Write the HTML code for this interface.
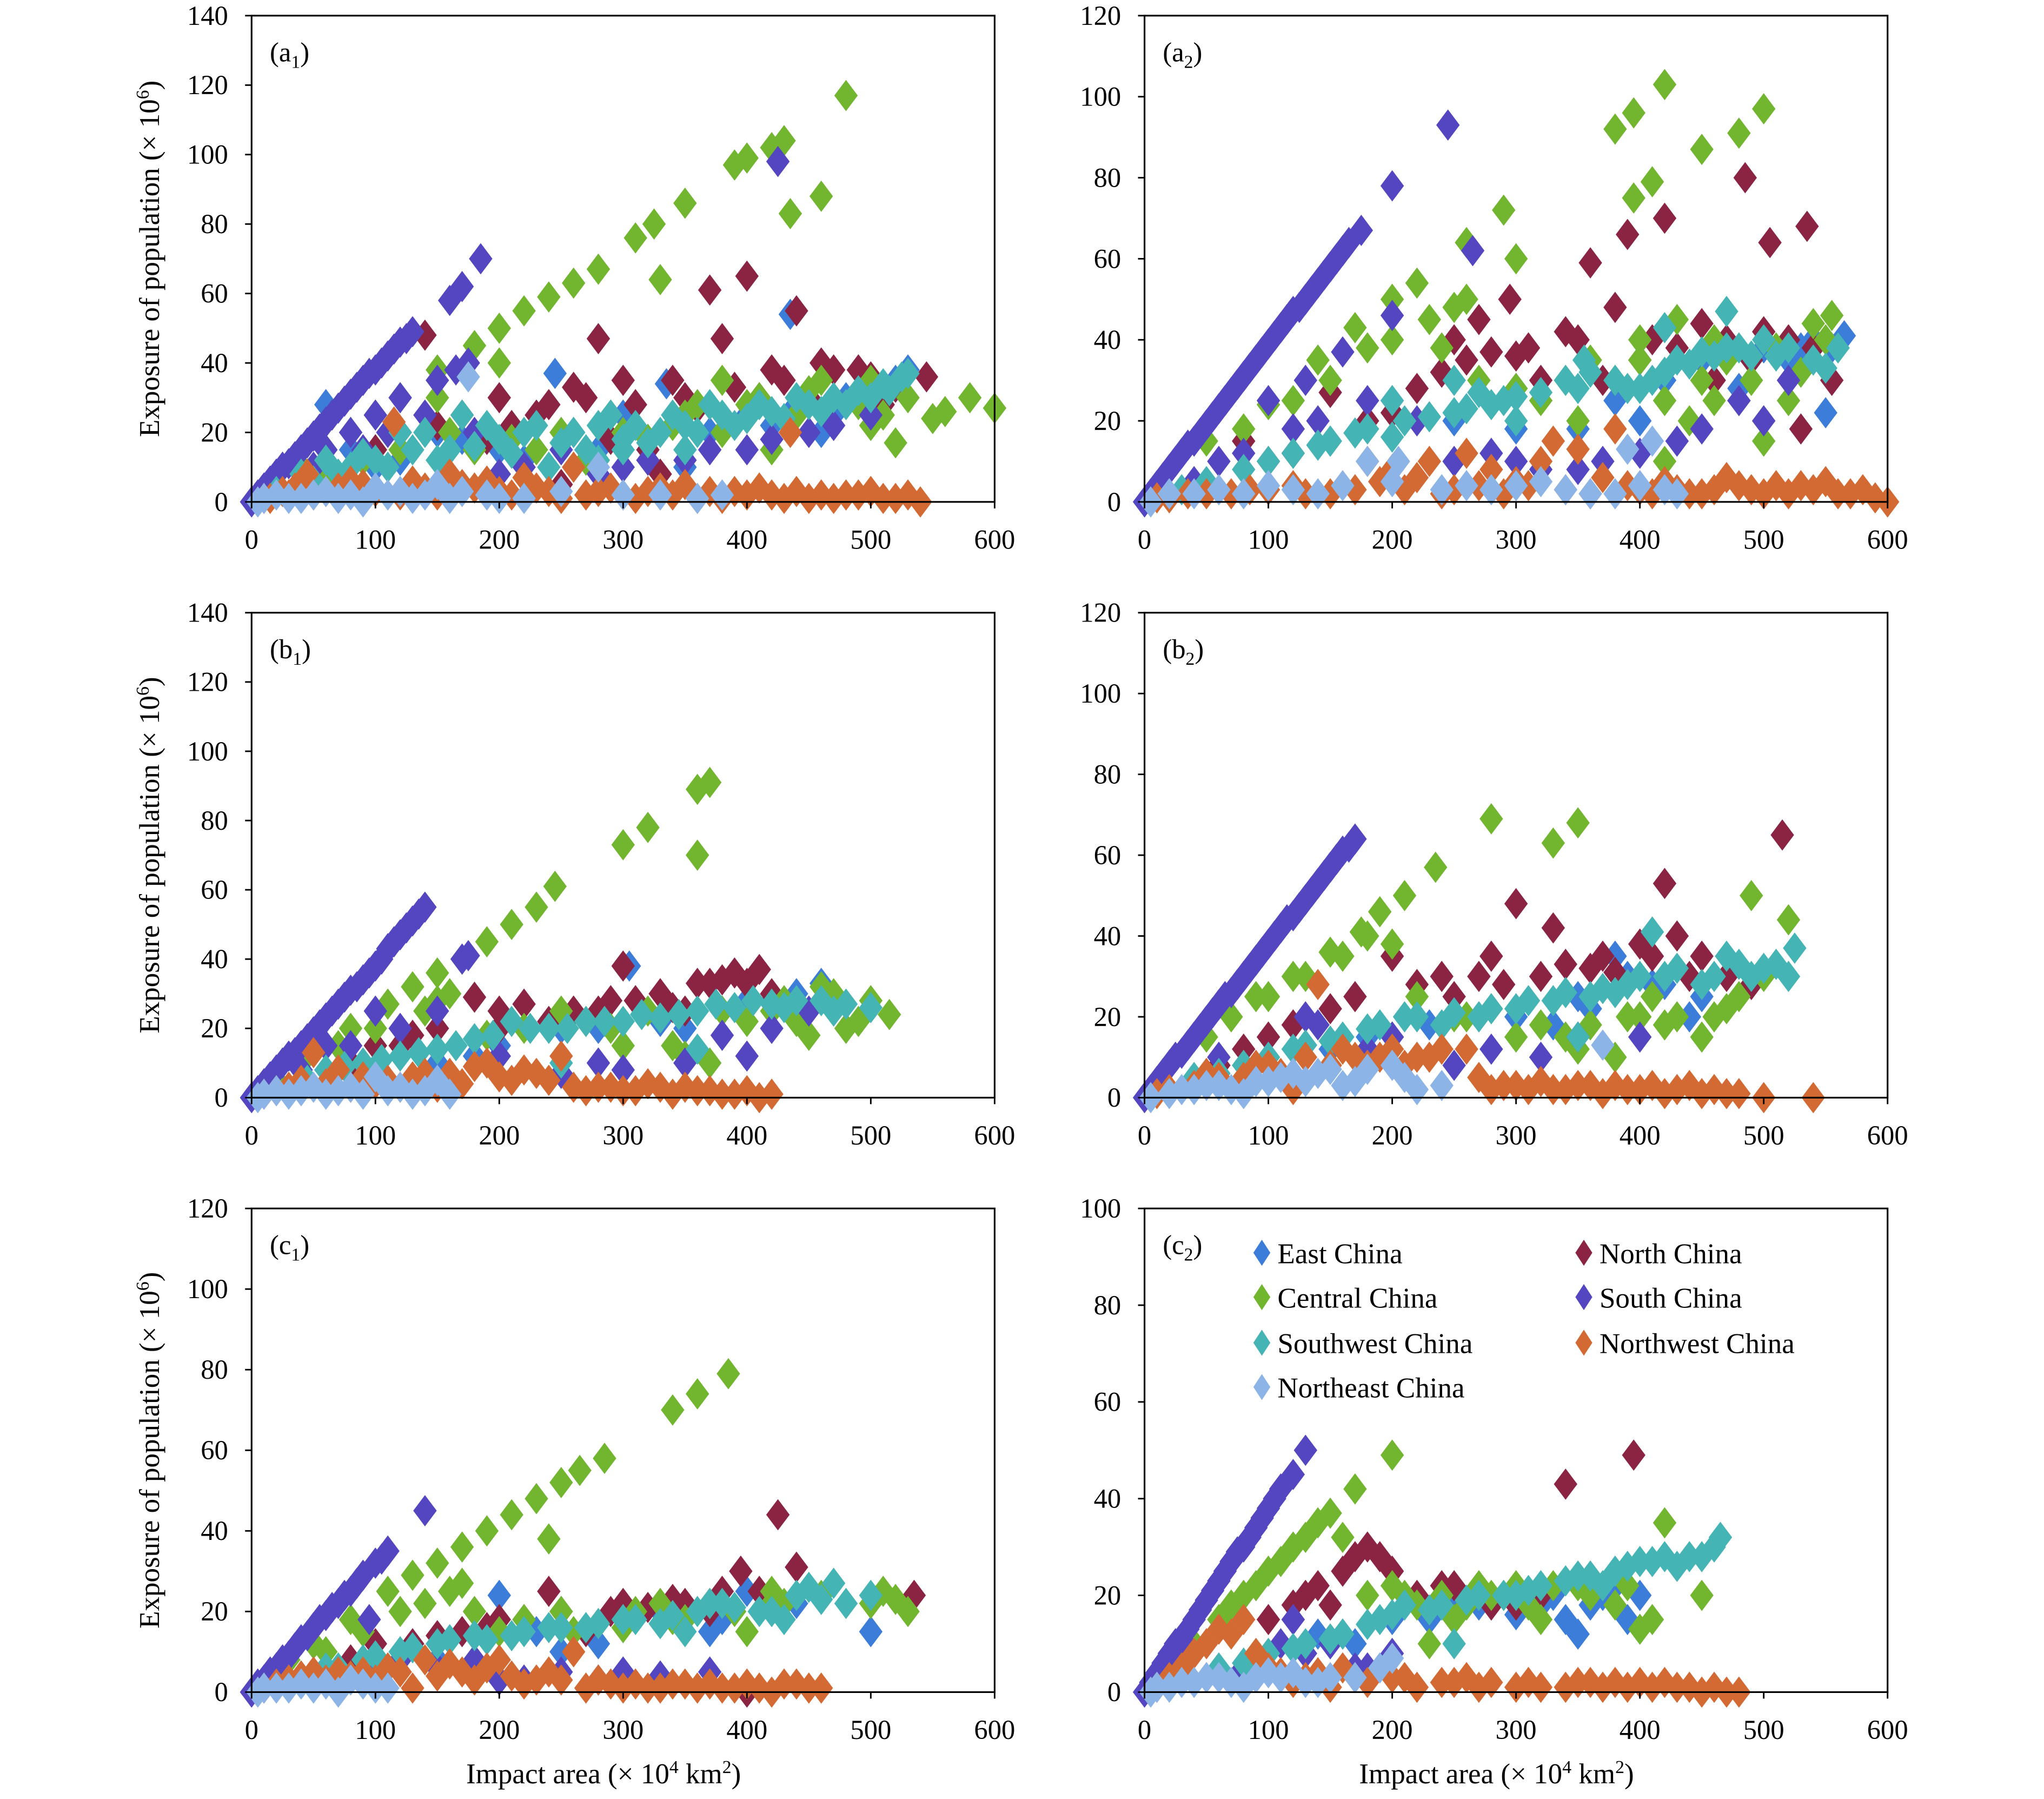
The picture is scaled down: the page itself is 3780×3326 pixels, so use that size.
<!DOCTYPE html>
<html><head><meta charset="utf-8"><style>
html,body{margin:0;padding:0;background:#fff}
svg{display:block}
text{font-family:"Liberation Serif",serif;fill:#000}
</style></head><body>
<svg id="chart" xmlns="http://www.w3.org/2000/svg" width="3780" height="3326" viewBox="0 0 1568 1380" preserveAspectRatio="none">
<g id="root"></g>
</svg>
<script>
const regions = ["East China","North China","Central China","South China","Southwest China","Northwest China","Northeast China"];
const colors = ["#3b7dd8","#8b2342","#72b52f","#5346c0","#44b4b4","#d36a33","#8cb4e6"];
const drawOrder = [0,1,2,3,4,5,6];
const xTicks = [0,100,200,300,400,500,600];

// Panel a1 data: flat [x,y,...]
const a1East=[60,28,245,37,335,34,435,54,490,38,530,38,150,20,200,15,300,25,400,25,460,20,100,10,350,10,480,30,80,15,120,12,170,18,220,12,260,20,280,15,320,18,370,20,420,22,440,28,470,25,510,30,520,35];
const a1North=[140,48,280,47,370,61,400,65,380,47,440,55,300,35,260,33,420,38,460,40,490,38,545,36,520,33,200,30,150,22,100,15,230,25,350,30,330,8,250,5,120,20,170,25,190,18,210,22,240,28,270,30,290,18,310,28,320,15,340,35,360,27,390,33,410,30,430,35,450,30,470,38,500,36,510,28];
const a1Central=[20,5,40,10,60,15,80,20,100,25,120,30,150,38,180,45,200,50,220,55,240,59,260,63,280,67,310,76,325,80,350,86,390,97,400,99,420,102,430,104,480,117,435,83,460,88,330,64,200,40,150,30,300,20,350,25,400,28,450,32,500,22,520,17,550,24,560,26,580,30,600,27,500,35,470,30,250,20,180,15,60,8,90,12,120,15,160,20,210,18,230,15,270,12,290,25,320,18,340,22,360,28,380,20,410,30,440,25,460,35,490,28,510,25,530,30,380,35,420,15];
const a1South=[0,0,10,4,20,8,30,11,40,15,50,19,60,23,70,27,80,31,90,35,100,38,110,42,120,46,130,49,160,58,170,62,185,70,425,98,165,38,175,40,120,30,100,25,80,20,60,15,150,35,250,15,300,10,350,12,400,15,450,20,200,8,5,2,15,6,25,10,35,13,45,17,55,21,65,25,75,29,85,33,95,37,105,40,115,44,125,47,50,10,90,15,110,20,140,25,180,20,220,10,280,8,320,12,370,15,420,18,470,22,500,25];
const a1SW=[20,3,50,6,80,10,100,12,130,15,160,15,200,18,220,20,250,17,280,22,300,18,330,20,350,22,380,25,400,24,420,26,450,28,470,30,490,32,510,34,525,36,170,25,240,10,300,15,120,20,40,8,60,12,70,8,90,14,110,10,140,20,150,12,180,16,190,22,210,14,230,22,260,20,270,15,290,25,310,22,320,17,340,25,360,20,370,28,390,22,410,28,430,24,440,30,460,26,480,28,500,30,515,32,530,37,350,15,280,12];
const a1NW=[10,1,30,2,45,8,60,3,90,5,115,23,140,4,170,5,200,3,230,4,260,10,280,3,300,2,330,4,360,1,390,3,420,2,435,20,450,1,480,2,510,1,540,0,120,2,250,1,15,1,25,3,35,4,50,2,70,4,80,6,100,3,130,6,150,2,160,8,180,4,190,6,210,2,220,7,240,3,270,2,290,4,310,1,320,3,340,2,350,5,370,3,380,1,400,2,410,4,430,1,440,3,460,2,470,1,490,2,500,3,520,1,530,2];
const a1NE=[5,0,20,2,40,1,60,3,80,2,100,4,130,1,150,5,175,36,170,3,200,1,280,10,330,2,360,1,90,0,10,1,30,1,50,2,70,1,110,2,120,3,140,2,160,1,190,2,220,1,250,3,300,2,380,2];

const a2East=[200,25,300,28,400,20,450,35,500,38,530,38,565,41,550,22,480,28,350,18,150,15,250,20,300,18,380,25,420,30,460,30,490,35,520,35,540,40,555,38];
const a2North=[80,15,150,27,250,40,270,45,295,50,300,36,340,42,360,59,380,48,390,66,420,70,485,80,505,64,535,68,555,30,530,18,450,44,500,42,200,22,120,12,400,35,100,10,180,20,220,28,240,32,260,35,280,37,310,38,320,30,350,40,370,30,410,40,430,38,470,40,490,35,520,40,540,38,460,30];
const a2Central=[50,15,100,24,140,35,170,43,200,50,220,54,260,64,290,72,240,38,200,40,380,92,395,96,420,103,500,97,480,91,450,87,410,79,395,75,300,60,400,40,450,30,480,25,500,20,520,25,540,44,555,46,350,20,420,10,250,48,260,50,80,18,120,25,150,30,180,38,230,45,270,30,300,28,320,25,340,30,360,35,380,30,400,35,420,25,440,20,460,25,470,35,490,30,510,38,530,32,550,40,430,45,460,40,500,15];
const a2South=[0,0,10,4,20,8,30,12,40,15,50,19,60,23,70,27,80,31,90,35,100,39,110,43,120,47,130,50,140,54,150,58,160,62,175,67,200,78,245,93,265,62,200,46,100,25,130,30,160,37,60,10,300,10,400,12,430,15,500,20,350,8,5,2,15,6,25,10,35,14,45,17,55,21,65,25,75,29,85,33,95,37,105,41,115,45,125,48,135,52,145,56,155,60,165,64,40,5,80,12,120,18,140,20,180,25,220,20,250,10,280,12,320,8,370,10,450,18,480,25,520,30];
const a2SW=[30,3,80,8,120,12,150,15,180,18,210,20,250,22,280,24,300,26,350,28,380,30,400,28,420,32,440,34,460,36,480,38,500,40,510,36,470,47,420,43,355,35,250,30,270,27,550,33,50,5,100,10,140,14,170,17,200,16,230,21,260,23,290,25,320,27,340,30,360,32,390,28,410,30,430,35,450,37,470,38,490,36,520,38,540,35,560,38,300,20,200,25];
const a2NW=[10,1,50,2,100,3,150,2,200,8,230,10,260,12,300,5,330,15,350,13,380,18,400,3,450,2,480,4,500,2,530,4,560,2,590,1,600,0,250,3,180,10,20,1,35,2,70,2,85,3,120,4,130,2,170,3,190,5,210,3,220,6,240,2,270,4,280,8,290,2,310,4,320,10,340,3,360,2,370,6,390,4,410,2,420,5,430,3,440,2,460,3,470,6,490,3,510,4,520,2,540,3,550,5,570,2,580,3];
const a2NE=[5,0,20,2,60,3,100,4,140,2,180,10,205,10,240,3,280,3,320,5,380,2,410,15,420,3,390,13,40,2,80,2,120,3,160,4,200,5,260,4,300,4,340,3,360,2,400,4,430,2];

const b1East=[305,38,460,33,200,15,250,20,350,20,400,28,150,10,100,8,180,12,280,20,330,22,380,25,420,28,440,30];
const b1North=[100,15,180,29,220,27,280,25,300,38,330,30,360,33,380,34,390,36,410,37,350,25,200,20,130,18,80,10,120,15,150,20,200,25,240,22,260,25,290,28,310,28,340,26,370,33,400,33,420,30];
const b1Central=[20,5,50,13,80,20,110,27,130,32,150,36,170,40,190,45,210,50,230,55,245,61,300,73,320,78,360,89,370,91,360,70,150,28,250,25,300,15,350,12,370,10,400,22,420,25,450,18,470,30,490,22,515,24,460,32,40,10,70,15,100,20,140,25,160,30,190,18,220,20,270,22,290,20,320,25,340,15,380,25,430,28,440,22,470,25,500,28,480,20];
const b1South=[0,0,10,4,20,8,30,12,40,15,50,19,60,23,70,27,80,31,90,34,100,38,110,43,130,51,140,55,175,41,170,40,100,25,60,15,300,8,400,12,450,25,250,7,350,10,5,2,15,6,25,10,35,13,45,17,55,21,65,25,75,29,85,32,95,36,105,40,115,45,120,47,125,49,135,53,40,8,80,15,120,20,150,25,200,12,280,10,380,18,420,20];
const b1SW=[30,3,60,8,90,10,120,12,150,14,180,17,210,22,240,20,270,22,300,22,330,23,360,25,390,26,420,27,440,28,480,27,360,14,250,10,45,5,75,9,105,11,135,13,165,15,195,18,225,20,255,20,285,22,315,24,345,24,375,27,405,28,430,26,460,28,470,25,500,26];
const b1NW=[20,2,50,13,70,8,100,4,130,6,160,7,190,10,220,8,250,12,280,3,300,2,330,3,360,2,390,1,420,1,150,3,10,1,30,3,40,5,60,4,80,3,90,6,110,5,120,3,140,7,170,4,180,9,200,6,210,5,230,7,240,5,260,3,270,2,290,3,310,2,320,4,340,1,350,3,370,2,380,1,400,2,410,0];
const b1NE=[5,0,20,2,50,3,80,3,100,6,120,3,150,5,130,1,60,1,10,1,30,1,40,2,70,2,90,1,110,2,140,2,160,1];

const b2East=[410,28,380,35,300,20,350,25,200,15,440,20,150,12,180,15,230,18,270,20,330,18,360,22,390,30,420,28,450,25];
const b2North=[60,8,100,15,150,22,200,35,240,30,280,35,300,48,330,42,360,32,380,31,420,53,430,40,470,30,515,65,490,28,80,12,120,18,170,25,220,28,250,25,270,30,290,28,320,30,340,33,370,35,400,38,410,35,440,30,450,35];
const b2Central=[50,15,90,25,120,30,150,36,175,41,190,46,210,50,235,57,280,69,330,63,350,68,200,38,300,15,350,12,400,20,420,18,450,15,470,22,490,50,520,44,380,10,250,20,70,20,100,25,130,30,160,35,180,40,220,25,260,20,280,22,320,18,340,15,360,18,390,20,410,25,430,20,460,20,480,25,500,30];
const b2South=[0,0,10,4,20,8,30,11,40,15,50,19,60,23,70,26,80,30,90,34,100,38,110,42,120,45,130,49,145,55,160,61,170,64,130,20,180,12,250,8,320,10,400,15,100,10,5,2,15,6,25,10,35,13,45,17,55,21,65,25,75,28,85,32,95,36,105,40,115,44,125,47,135,51,140,53,150,57,155,59,165,62,60,10,140,18,200,15,280,12,350,15];
const b2SW=[40,5,80,8,120,12,150,14,180,17,210,20,240,18,270,20,300,22,330,24,360,25,380,26,410,41,420,30,450,28,480,33,500,32,525,37,350,15,60,6,100,10,130,13,160,15,190,18,220,20,250,21,280,22,310,24,340,26,370,27,390,28,400,30,430,32,460,30,470,35,490,30,510,33,520,30];
const b2NW=[20,2,60,5,100,8,140,28,170,10,200,12,230,10,260,12,300,3,330,2,360,3,400,2,440,3,480,1,500,0,540,0,120,2,10,1,40,3,50,6,80,5,90,8,110,6,130,10,150,8,160,12,180,8,190,10,210,8,220,10,240,12,270,5,280,2,290,3,310,2,320,4,340,2,350,3,370,1,380,3,390,2,410,3,420,1,430,2,450,1,460,2,470,1];
const b2NE=[5,0,30,2,60,3,100,4,120,6,150,7,160,3,200,8,220,2,370,13,80,1,20,1,40,2,50,3,70,2,90,4,110,5,130,4,140,6,170,4,180,7,210,5,240,3];

const c1East=[200,24,330,20,370,15,400,25,500,15,250,10,150,8,100,5,230,15,280,12,300,18,350,20,380,18,420,20,440,22];
const c1North=[100,12,170,15,240,25,300,22,340,23,395,30,425,44,440,31,535,24,400,0,200,18,80,8,130,12,150,14,190,16,220,18,250,20,270,15,290,20,320,21,350,22,370,20,380,25,410,25];
const c1Central=[20,5,50,12,80,18,110,25,130,29,150,32,170,36,190,40,210,44,230,48,250,52,265,55,285,58,340,70,360,74,385,79,240,38,170,27,300,16,330,22,350,18,400,15,420,25,520,23,530,20,420,22,30,8,60,10,90,15,120,20,140,22,160,25,180,20,200,15,220,18,250,20,260,15,280,17,310,20,340,18,370,22,390,20,430,22,460,24,500,22,510,25];
const c1South=[0,0,10,3,20,6,30,9,40,13,50,16,60,19,70,22,80,25,90,29,100,32,110,35,95,18,140,45,180,8,250,5,300,5,370,5,200,3,5,2,15,5,25,8,35,11,45,14,55,18,65,21,75,24,85,27,105,33,120,8,150,6,220,3,280,3,330,4];
const c1SW=[30,3,60,6,90,8,120,10,150,12,180,14,210,14,240,16,270,16,300,18,330,17,360,20,380,22,420,20,450,26,470,27,500,24,460,23,430,18,40,4,70,6,100,9,130,11,160,13,190,13,220,15,250,16,280,17,310,18,340,19,350,15,370,22,390,21,410,20,440,24,480,22];
const c1NW=[20,2,50,5,80,4,110,6,140,8,170,5,200,8,230,3,260,10,290,2,320,1,350,2,380,1,420,0,440,2,460,1,130,1,10,1,30,3,40,4,60,3,70,5,90,5,100,3,120,5,150,4,160,7,180,3,190,6,210,4,220,2,240,5,250,3,270,1,280,3,300,1,310,2,330,1,340,2,360,1,370,2,390,1,400,2,410,1,430,2,450,1];
const c1NE=[5,0,20,1,40,2,60,2,80,3,100,1,70,0,10,1,30,1,50,1,90,2,110,1];

const c2East=[120,15,150,10,330,20,350,12,370,20,390,15,400,20,250,18,200,15,140,12,170,10,230,15,270,18,300,16,320,18,340,15,360,18,380,22];
const c2North=[100,15,130,20,150,18,170,28,180,30,200,25,250,22,340,43,395,49,300,18,120,18,140,22,160,25,190,28,220,20,240,22,280,18,320,20];
const c2Central=[30,8,60,15,80,20,100,25,120,30,150,37,170,42,200,49,160,32,210,20,250,15,280,20,300,22,320,15,400,13,420,35,450,20,350,22,230,10,40,10,70,18,90,22,110,27,130,32,140,35,180,20,200,22,220,18,240,20,260,18,270,22,290,20,310,18,330,22,360,20,380,18,390,22,410,15];
const c2South=[0,0,10,4,20,8,30,11,40,15,50,19,60,23,70,27,80,30,90,34,100,38,105,40,130,50,150,10,170,5,200,8,120,15,5,2,15,6,25,10,35,13,45,17,55,21,65,25,75,29,85,32,95,36,110,42,120,45,80,5,110,10,130,8,160,12,180,5];
const c2SW=[60,5,100,8,130,10,160,12,190,15,210,18,240,18,270,20,300,20,320,22,350,24,380,25,400,27,420,28,440,28,465,32,250,10,80,6,120,9,150,11,180,14,200,16,230,17,260,19,290,20,310,21,340,23,360,24,370,22,390,26,410,27,430,26,450,28,460,30];
const c2NW=[20,3,40,8,60,13,80,15,100,5,130,3,160,5,200,3,250,2,300,1,350,2,400,2,430,1,450,0,480,0,150,1,10,1,30,5,50,10,70,12,90,8,110,4,120,2,140,4,170,3,180,2,210,3,220,1,240,2,260,3,270,1,280,2,310,2,320,1,340,1,360,2,370,1,380,2,390,1,410,1,420,2,440,1,460,1,470,0];
const c2NE=[5,0,30,2,60,3,100,4,130,2,150,3,200,7,80,1,10,1,20,1,40,2,50,3,70,2,90,3,110,3,120,4,140,2,170,3,190,5];

const yTicksA1=[0,20,40,60,80,100,120,140];
const yTicksA2=[0,20,40,60,80,100,120];
const yTicksC2=[0,20,40,60,80,100];

const panels=[
 {id:"a1",sub:"1",letter:"a",x0:193,x1:763,y0:12,y1:385,ymax:140,yt:yTicksA1,series:[a1East,a1North,a1Central,a1South,a1SW,a1NW,a1NE],ytitle:true,xtitle:false},
 {id:"a2",sub:"2",letter:"a",x0:878,x1:1448,y0:12,y1:385,ymax:120,yt:yTicksA2,series:[a2East,a2North,a2Central,a2South,a2SW,a2NW,a2NE],ytitle:false,xtitle:false},
 {id:"b1",sub:"1",letter:"b",x0:193,x1:763,y0:470,y1:842,ymax:140,yt:yTicksA1,series:[b1East,b1North,b1Central,b1South,b1SW,b1NW,b1NE],ytitle:true,xtitle:false},
 {id:"b2",sub:"2",letter:"b",x0:878,x1:1448,y0:470,y1:842,ymax:120,yt:yTicksA2,series:[b2East,b2North,b2Central,b2South,b2SW,b2NW,b2NE],ytitle:false,xtitle:false},
 {id:"c1",sub:"1",letter:"c",x0:193,x1:763,y0:927,y1:1298,ymax:120,yt:yTicksA2,series:[c1East,c1North,c1Central,c1South,c1SW,c1NW,c1NE],ytitle:true,xtitle:true},
 {id:"c2",sub:"2",letter:"c",x0:878,x1:1448,y0:927,y1:1298,ymax:100,yt:yTicksC2,series:[c2East,c2North,c2Central,c2South,c2SW,c2NW,c2NE],ytitle:false,xtitle:true,legend:true}
];

const NS="http://www.w3.org/2000/svg";
const root=document.getElementById("root");
function mk(tag,attrs,parent){const e=document.createElementNS(NS,tag);for(const k in attrs)e.setAttribute(k,attrs[k]);(parent||root).appendChild(e);return e;}
function diamond(cx,cy,hw,hh){return `M${cx},${cy-hh}L${cx+hw},${cy}L${cx},${cy+hh}L${cx-hw},${cy}Z`;}

panels.forEach(p=>{
  const g=mk("g",{});
  
  
  const sx=v=>p.x0+(v/600)*(p.x1-p.x0);
  const sy=v=>p.y1-(v/p.ymax)*(p.y1-p.y0);
  drawOrder.forEach(si=>{
    const sg=mk("g",{fill:colors[si]},g);
    
    
    const arr=p.series[si];
    for(let i=0;i<arr.length;i+=2){
      const m=mk("path",{d:diamond(sx(arr[i]),sy(arr[i+1]),9,12)},sg);
      
      
    }
  });
  const fr=mk("rect",{x:p.x0,y:p.y0,width:p.x1-p.x0,height:p.y1-p.y0,fill:"none",stroke:"#000","stroke-width":1.3},g);
  
  
  p.yt.forEach(t=>{
    const y=sy(t);
    mk("line",{x1:p.x0-5,x2:p.x0,y1:y,y2:y,stroke:"#000","stroke-width":1.2},g);
    const tx=mk("text",{x:p.x0-18,y:y+7,"text-anchor":"end","font-size":21},g);
    tx.textContent=t;
    
    
  });
  xTicks.forEach(t=>{
    const x=sx(t);
    mk("line",{x1:x,x2:x,y1:p.y1,y2:p.y1+5,stroke:"#000","stroke-width":1.2},g);
    const tx=mk("text",{x:x,y:p.y1+36,"text-anchor":"middle","font-size":21},g);
    tx.textContent=t;
    
    
  });
  const pl=mk("text",{x:p.x0+14,y:p.y0+35,"font-size":21},g);
  pl.innerHTML=`(${p.letter}<tspan font-size="14" dy="5">${p.sub}</tspan><tspan dy="-5">)</tspan>`;
  
  
  if(p.ytitle){
    const cy=(p.y0+p.y1)/2, cx=122;
    const yt=mk("text",{x:cx,y:cy,"text-anchor":"middle","font-size":22,transform:`rotate(-90 ${cx} ${cy})`},g);
    yt.innerHTML='Exposure of population (× 10<tspan font-size="14" dy="-8">6</tspan><tspan dy="8">)</tspan>';
    
    
  }
  if(p.xtitle){
    const xt=mk("text",{x:(p.x0+p.x1)/2-15,y:1368,"text-anchor":"middle","font-size":22},g);
    xt.innerHTML='Impact area (× 10<tspan font-size="14" dy="-8">4</tspan><tspan dy="8">  km</tspan><tspan font-size="14" dy="-8">2</tspan><tspan dy="8">)</tspan>';
    
    
  }
  if(p.legend){
    const lg=mk("g",{},g);
    
    
    const pos=[[968,961],[1215,961],[968,995],[1215,995],[968,1030],[1215,1030],[968,1064]];
    [0,1,2,3,4,5,6].forEach(i=>{
      const [lx,ly]=pos[i];
      const e=mk("g",{},lg);
      
      
      mk("path",{d:diamond(lx,ly,6.5,10),fill:colors[i]},e);
      const t=mk("text",{x:lx+12,y:ly+8,"font-size":22},e);
      t.textContent=regions[i];
    });
  }
});
</script>
</body></html>
